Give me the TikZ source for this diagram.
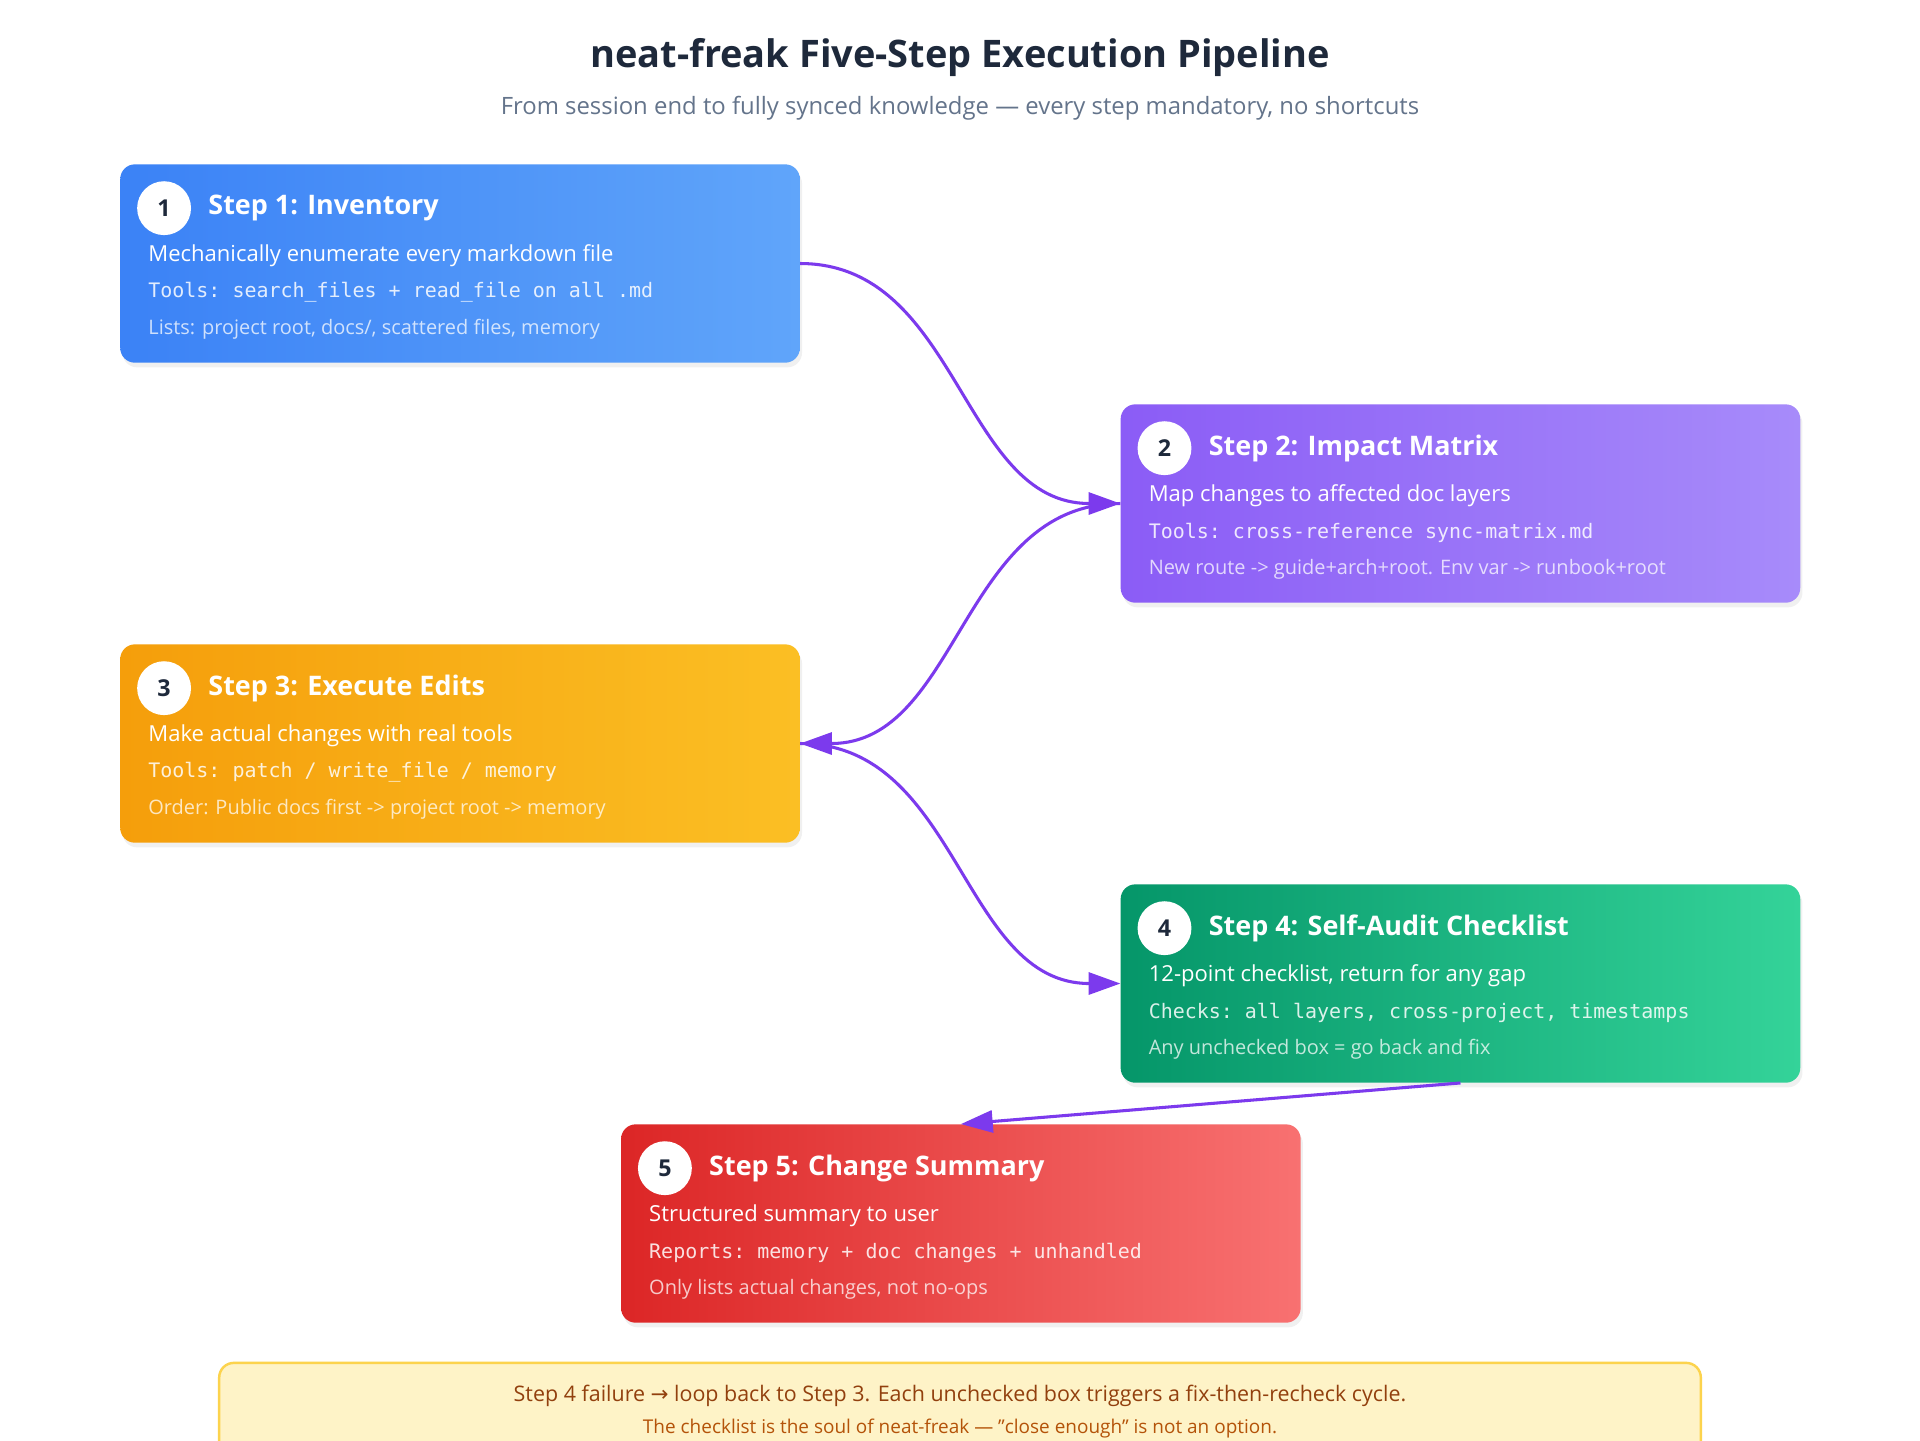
\documentclass[tikz,border=0pt]{standalone}
\usepackage{fontspec}
\setmainfont{Open Sans}
\setmonofont{DejaVu Sans Mono}
\newfontfamily\dejavu{DejaVu Sans}
\usetikzlibrary{arrows.meta}
\definecolor{purp}{HTML}{7C3AED}
\definecolor{dark}{HTML}{1E293B}
\definecolor{gray}{HTML}{64748B}
\definecolor{c1a}{HTML}{3B82F6}\definecolor{c1b}{HTML}{60A5FA}
\definecolor{c2a}{HTML}{8B5CF6}\definecolor{c2b}{HTML}{A78BFA}
\definecolor{c3a}{HTML}{F59E0B}\definecolor{c3b}{HTML}{FBBF24}
\definecolor{c4a}{HTML}{059669}\definecolor{c4b}{HTML}{34D399}
\definecolor{c5a}{HTML}{DC2626}\definecolor{c5b}{HTML}{F87171}
\definecolor{notef}{HTML}{FEF3C7}\definecolor{noted}{HTML}{FCD34D}
\definecolor{notet}{HTML}{92400E}\definecolor{notes}{HTML}{B45309}
\begin{document}
\begin{tikzpicture}[x=1pt,y=-1pt,
 box/.style={rounded corners=12pt,minimum width=555pt,minimum height=162pt,inner sep=0pt,draw=none},
 num/.style={circle,fill=white,minimum size=44pt,inner sep=0pt,font=\fontsize{19}{19}\selectfont\bfseries,text=dark},
 ttl/.style={anchor=west,font=\fontsize{22}{22}\selectfont\bfseries,text=white,inner sep=0pt},
 l1/.style={anchor=west,font=\fontsize{18}{18}\selectfont,text=white,inner sep=0pt},
 l2/.style={anchor=west,font=\ttfamily\fontsize{16.3}{16}\selectfont,text=white,text opacity=0.85,inner sep=0pt},
 l3/.style={anchor=west,font=\fontsize{16.3}{16}\selectfont,text=white,text opacity=0.75,inner sep=0pt},
 arr/.style={draw=purp,line width=2.5pt,-{Triangle[length=26pt,width=18pt]}}]
\useasboundingbox (0,0) rectangle (1568,1176);
\fill[white] (0,0) rectangle (1568,1176);
\node[font=\fontsize{31}{31}\selectfont\bfseries,text=dark] (t) at (784,47) {neat-freak Five-Step Execution Pipeline};
\node[font=\fontsize{19.5}{20}\selectfont,text=gray] (s) at (784,88) {From session end to fully synced knowledge — every step mandatory, no shortcuts};
\newcommand{\stepbox}[9]{%
 \fill[black,opacity=0.06,rounded corners=12pt] (#2+2,#3+4) rectangle ++(555,162);
 \node[box,anchor=north west,left color=#4,right color=#5] (#1) at (#2,#3) {};
 \node[num] (#1n) at (#2+36,#3+36) {#6};
 \node[ttl] (#1t) at (#2+72,#3+36) {#7};
 \node[l1] (#1a) at (#2+23,#3+75) {#8};
 #9}
\stepbox{b1}{98}{134}{c1a}{c1b}{1}{Step 1: Inventory}{Mechanically enumerate every markdown file}{%
 \node[l2] (b1b) at (121,239) {Tools: search\_files + read\_file on all .md};
 \node[l3] (b1c) at (121,269) {Lists: project root, docs/, scattered files, memory};}
\stepbox{b2}{915}{330}{c2a}{c2b}{2}{Step 2: Impact Matrix}{Map changes to affected doc layers}{%
 \node[l2] (b2b) at (938,435) {Tools: cross-reference sync-matrix.md};
 \node[l3] (b2c) at (938,465) {New route -> guide+arch+root. Env var -> runbook+root};}
\stepbox{b3}{98}{526}{c3a}{c3b}{3}{Step 3: Execute Edits}{Make actual changes with real tools}{%
 \node[l2] (b3b) at (121,631) {Tools: patch / write\_file / memory};
 \node[l3] (b3c) at (121,661) {Order: Public docs first -> project root -> memory};}
\stepbox{b4}{915}{722}{c4a}{c4b}{4}{Step 4: Self-Audit Checklist}{12-point checklist, return for any gap}{%
 \node[l2] (b4b) at (938,827) {Checks: all layers, cross-project, timestamps};
 \node[l3] (b4c) at (938,857) {Any unchecked box = go back and fix};}
\stepbox{b5}{507}{918}{c5a}{c5b}{5}{Step 5: Change Summary}{Structured summary to user}{%
 \node[l2] (b5b) at (530,1023) {Reports: memory + doc changes + unhandled};
 \node[l3] (b5c) at (530,1053) {Only lists actual changes, not no-ops};}
\draw[arr] (b1.east) .. controls +(130,0) and +(-130,0) .. (b2.west);
\draw[arr] (b2.west) .. controls +(-130,0) and +(130,0) .. (b3.east);
\draw[arr] (b3.east) .. controls +(130,0) and +(-130,0) .. (b4.west);
\draw[arr] (b4.south) -- (b5.north);
\draw[fill=notef,draw=noted,line width=2pt,rounded corners=12pt] (179,1113) rectangle (1389,1200);
\node[font=\fontsize{17.5}{18}\selectfont,text=notet] (n1) at (784,1140) {Step 4 failure {\dejavu →} loop back to Step 3. Each unchecked box triggers a fix-then-recheck cycle.};
\node[font=\fontsize{15.5}{16}\selectfont,text=notes] (n2) at (784,1167) {The checklist is the soul of neat-freak — "close enough" is not an option.};
\end{tikzpicture}
\end{document}
